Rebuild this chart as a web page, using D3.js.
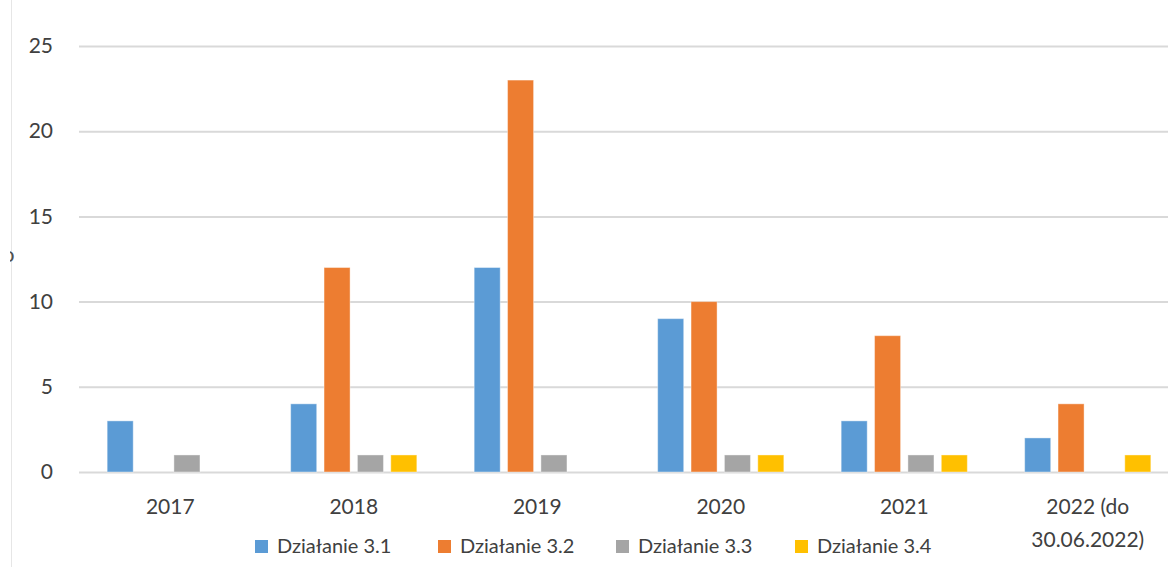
<!DOCTYPE html>
<html>
<head>
<meta charset="utf-8">
<script src="https://cdn.jsdelivr.net/npm/d3@7"></script>
<style>
  body { margin: 0; background: #fff; }
  svg { display: block; font-family: Lato, "Open Sans", sans-serif; }
</style>
</head>
<body>
<div class="chart"></div>
<script>
var categories = ['2017', '2018', '2019', '2020', '2021', '2022 (do 30.06.2022)']
var series = ['Działanie 3.1', 'Działanie 3.2', 'Działanie 3.3', 'Działanie 3.4']
var colors = ['#5B9BD5', '#ED7D31', '#A5A5A5', '#FFC000']
var d31 = [3, 4, 12, 9, 3, 2]
var d32 = [0, 12, 23, 10, 8, 4]
var d33 = [1, 1, 1, 1, 1, 0]
var d34 = [0, 1, 0, 1, 1, 1]
var yTicks = [0, 5, 10, 15, 20, 25]

var values = [d31, d32, d33, d34]
var data = []
categories.forEach((c, i) => {
  series.forEach((s, j) => data.push({cat: c, s, v: values[j][i], color: colors[j]}))
})

var width = 1168, height = 567
var svg = d3.select('.chart').append('svg').attr('width', width).attr('height', height)

var x0 = d3.scaleBand().domain(categories).range([78.5, 78.5 + 6 * 183.5])
var x1 = d3.scaleBand().domain(series).range([25, 158.5]).paddingInner(0.22).paddingOuter(0.11)
var y = d3.scaleLinear().domain([0, 25]).range([472, 46])

// left border
svg.append('line').attr('x1', 11.5).attr('x2', 11.5).attr('y1', 0).attr('y2', height)
  .attr('stroke', '#e6e6e6').attr('stroke-width', 1)

// clipped axis title remnant
svg.append('defs').append('clipPath').attr('id', 'edge')
  .append('rect').attr('x', 10).attr('y', 0).attr('width', 20).attr('height', height)
svg.append('text').text('ↄ').attr('x', 4).attr('y', 262)
  .attr('clip-path', 'url(#edge)')
  .attr('font-size', 22).attr('fill', '#505050')

// gridlines + y labels
var yAxis = d3.axisLeft(y).tickValues(yTicks).tickSize(-(width - 79)).tickPadding(26)
var ga = svg.append('g').attr('transform', 'translate(79,0)').call(yAxis)
ga.select('.domain').remove()
ga.selectAll('.tick line').attr('stroke', '#d9d9d9').attr('stroke-width', 2)
ga.selectAll('.tick text').attr('font-size', 21).attr('fill', '#404040')
  .attr('font-family', 'Lato, sans-serif')

// bars
svg.append('g').selectAll('rect').data(data.filter(d => d.v > 0)).join('rect')
  .attr('x', d => x0(d.cat) + x1(d.s))
  .attr('width', x1.bandwidth())
  .attr('y', d => y(d.v))
  .attr('height', d => y(0) - y(d.v))
  .attr('fill', d => d.color)
  .attr('stroke', '#fff').attr('stroke-opacity', 0.4).attr('stroke-width', 1)

// x labels
var xl = svg.append('g').selectAll('text').data(categories).join('text')
  .attr('x', d => x0(d) + x0.bandwidth() / 2)
  .attr('y', 514)
  .attr('text-anchor', 'middle')
  .attr('font-size', 21).attr('fill', '#404040')
xl.each(function(d) {
  var parts = d.indexOf('(') > 0 ? ['2022 (do', '30.06.2022)'] : [d]
  d3.select(this).selectAll('tspan').data(parts).join('tspan')
    .attr('x', x0(d) + x0.bandwidth() / 2)
    .attr('dy', (p, i) => i ? 33 : 0)
    .text(p => p)
})

// legend
var legendX = [255, 438, 616, 795]
var lg = svg.append('g').selectAll('g').data(series).join('g')
  .attr('transform', (d, i) => `translate(${legendX[i]},540)`)
lg.append('rect').attr('width', 13).attr('height', 13).attr('fill', (d, i) => colors[i])
lg.append('text').text(d => d).attr('x', 22).attr('y', 13)
  .attr('font-size', 20).attr('fill', '#404040')
</script>
</body>
</html>
